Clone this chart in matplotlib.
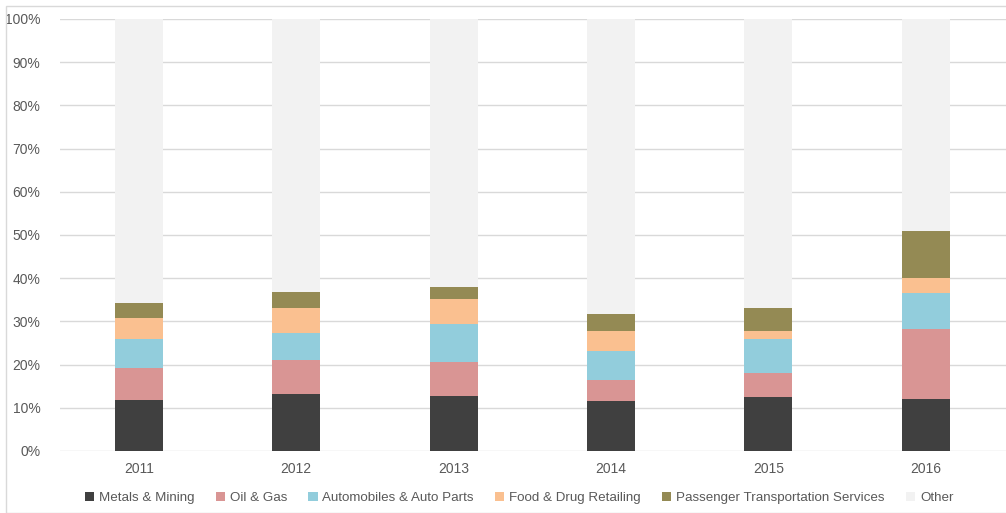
import matplotlib
matplotlib.use("Agg")
import matplotlib.pyplot as plt
from matplotlib.patches import Rectangle
import numpy as np

years = ["2011", "2012", "2013", "2014", "2015", "2016"]
series_names = ["Metals & Mining", "Oil & Gas", "Automobiles & Auto Parts",
                "Food & Drug Retailing", "Passenger Transportation Services", "Other"]
metals = [11.9, 13.3, 12.7, 11.6, 12.4, 12.1]
oil_gas = [7.4, 7.8, 7.8, 4.8, 5.7, 16.1]
autos = [6.6, 6.2, 8.9, 6.7, 7.8, 8.4]
food = [5.0, 5.8, 5.7, 4.6, 1.8, 3.4]
passenger = [3.4, 3.8, 2.9, 4.0, 5.4, 10.9]
other = [65.7, 63.1, 62.0, 68.3, 66.9, 49.1]
colors = ["#404040", "#D99594", "#92CDDC", "#FAC090", "#948A54", "#F2F2F2"]

plt.rcParams['font.family'] = ['Liberation Sans', 'DejaVu Sans']
fig = plt.figure(figsize=(10.06, 5.13), dpi=100)
ax = fig.add_axes([60/1006, 1-451/513, 946/1006, (451-19)/513])

x = np.arange(len(years))
bottom = np.zeros(len(years))
data = [metals, oil_gas, autos, food, passenger, other]
handles = []
for name, vals, c in zip(series_names, data, colors):
    b = ax.bar(x, vals, width=0.305, bottom=bottom, color=c, label=name, zorder=3)
    handles.append(b)
    bottom += np.array(vals)

ax.set_xlim(-0.5, len(years) - 0.5 + 0.01)
ax.set_ylim(0, 100)
ax.set_yticks(np.arange(0, 101, 10))
ax.set_yticklabels([f"{v}%" for v in range(0, 101, 10)])
ax.set_xticks(x)
ax.set_xticklabels(years)
ax.yaxis.grid(True, color="#D9D9D9", linewidth=1, zorder=0)
ax.set_axisbelow(True)
for s in ax.spines.values():
    s.set_visible(False)
ax.tick_params(axis='both', length=0, colors="#595959", labelsize=10)
ax.tick_params(axis='y', pad=14)
ax.tick_params(axis='x', pad=8)

leg = fig.legend(handles=handles, labels=series_names, loc='center', ncol=6,
                 bbox_to_anchor=(0.516, 1-498/513), frameon=False, fontsize=9.6,
                 handlelength=0.7, handleheight=0.7, handletextpad=0.35, columnspacing=1.6,
                 labelcolor="#595959")

fig.patches.append(Rectangle((6/1006, 0), 1.0, 1-6/513, transform=fig.transFigure,
                             fill=False, edgecolor="#D9D9D9", linewidth=1))
fig.savefig("out.png", dpi=100)
